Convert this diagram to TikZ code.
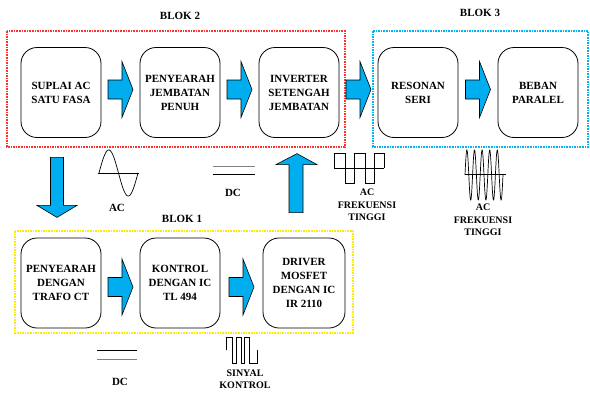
\documentclass[tikz,border=0pt]{standalone}
\usepackage{fontspec}
\setmainfont{Liberation Serif}
\usepackage{tikz}
\usetikzlibrary{calc}
\definecolor{panahbiru}{RGB}{0,174,239}
\definecolor{merah}{RGB}{255,50,50}
\definecolor{birumuda}{RGB}{0,180,240}
\definecolor{kuning}{RGB}{250,235,0}

\begin{document}
\begin{tikzpicture}[x=1pt, y=-1pt,
  kotak/.style={draw, line width=0.8pt, rounded corners=16pt, minimum width=80pt, minimum height=90pt, align=center, inner sep=2pt, font=\bfseries\fontsize{11}{14}\selectfont},
  teks/.style={align=center, inner sep=0pt, font=\bfseries\fontsize{11}{14}\selectfont},
  tekskecil/.style={align=center, inner sep=0pt, font=\bfseries\fontsize{10}{12.5}\selectfont},
  panah/.style={fill=panahbiru, draw=black, line width=0.6pt},
  garisblok/.style={line width=1.1pt, dash pattern=on 1.6pt off 1pt},
  gelombang/.style={line width=0.7pt}]
\useasboundingbox (0,0) rectangle (590,392);

% blok 2 dan blok 3
\draw [garisblok, draw=merah] (7,31) rectangle (345,147);
\draw [garisblok, draw=birumuda] (373,31) rectangle (588,147);
\node[teks] (blok2) at (180,16) {BLOK 2};
\node[teks] (blok3) at (480,13) {BLOK 3};
\node[kotak] (suplai) at (61,92.5) {SUPLAI AC\\SATU FASA};
\node[kotak] (jembatan) at (180,92.5) {PENYEARAH\\JEMBATAN\\PENUH};
\node[kotak] (inverter) at (299,92.5) {INVERTER\\SETENGAH\\JEMBATAN};
\node[kotak] (resonan) at (418,92.5) {RESONAN\\SERI};
\node[kotak] (beban) at (538,92.5) {BEBAN\\PARALEL};

% blok 1
\draw [garisblok, draw=kuning] (15,231) rectangle (353,333);
\node[teks] (blok1) at (182,219) {BLOK 1};
\node[kotak] (trafo) at (61,283) {PENYEARAH\\DENGAN\\TRAFO CT};
\node[kotak] (kontrol) at (180,283) {KONTROL\\DENGAN IC\\TL 494};
\node[kotak, minimum width=82pt] (driver) at (304,283) {DRIVER\\MOSFET\\DENGAN IC\\IR 2110};

% panah blok
\foreach \a/\b/\d in {suplai/jembatan/-3, jembatan/inverter/-3, inverter/resonan/-3, resonan/beban/-3, trafo/kontrol/4, kontrol/driver/4} {
    \filldraw [panah] ($(\a.east)!0.5!(\b.west)+(0,\d)$) ++(-12.5,-9.5) -- ++(14,0) -- ++(0,-18.5) -- ++(11,28) -- ++(-11,28) -- ++(0,-18.5) -- ++(-14,0) -- cycle;
}
\filldraw [panah] ($(suplai.south)+(-10.5,19.5)$) -- ++(13,0) -- ++(0,48) -- ++(13.5,0) -- ++(-20,12) -- ++(-20,-12) -- ++(13.5,0) -- cycle;
\filldraw [panah] ($(driver.north)+(-15,-25)$) -- ++(14,0) -- ++(0,-48) -- ++(14,0) -- ++(-20,-11) -- ++(-21,11) -- ++(13,0) -- cycle;

% AC satu fasa
\draw [gelombang] (98,173) -- (139,173);
\draw [gelombang] plot[domain=0:360, samples=60] ({99+\x/360*39}, {173-23*sin(\x)});
\node[teks] (ac) at (117,208) {AC};

% DC
\draw [gelombang, gray] (213,166) -- (255,166);
\draw [gelombang] (213,174) -- (255,174);
\node[teks] (dc1) at (233,193) {DC};
\draw [gelombang] (97,350) -- (137,350);
\draw [gelombang, gray] (97,359) -- (137,359);
\node[teks] (dc2) at (120,382) {DC};

% AC frekuensi tinggi (kotak)
\draw [gelombang] (334,168) -- (384,168);
\draw [gelombang] (334,168) -- (334,153) -- (345,153) -- (345,183) -- (354,183) -- (354,153) -- (365,153) -- (365,183) -- (374,183) -- (374,153) -- (384,153) -- (384,168);
\node[tekskecil] (acft1) at (367,205) {AC\\FREKUENSI\\TINGGI};

% AC frekuensi tinggi (sinus)
\draw [gelombang] (465,174) -- (506,174);
\draw [gelombang] plot[domain=0:1800, samples=200] ({465+\x/1800*38}, {175-25*sin(\x)});
\node[tekskecil] (acft2) at (483,220) {AC\\FREKUENSI\\TINGGI};

% sinyal kontrol
\draw [gelombang] (226,350) -- (226,337) -- (232,337) -- (232,363) -- (236,363) -- (236,337) -- (241,337) -- (241,363) -- (244,363) -- (244,337) -- (249,337) -- (249,363) -- (257,363) -- (257,350);
\node[tekskecil] (sinyal) at (245,379) {SINYAL\\KONTROL};
\end{tikzpicture}
\end{document}
